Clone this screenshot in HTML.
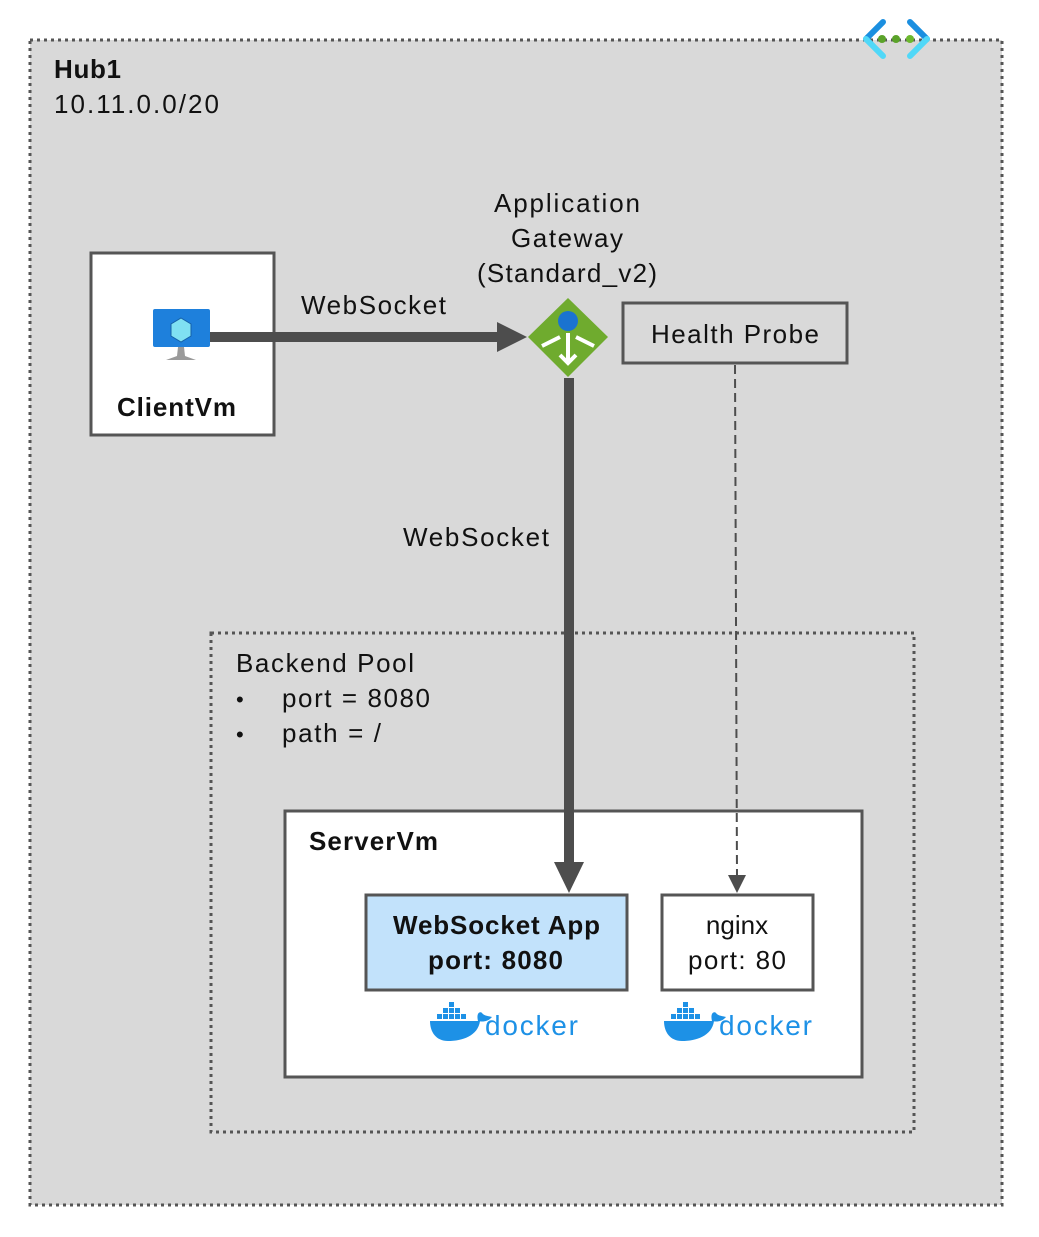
<!DOCTYPE html>
<html><head><meta charset="utf-8"><style>body{margin:0;background:#fff}svg{display:block}text{font-family:"Liberation Sans",sans-serif;fill:#111}</style></head>
<body>
<svg width="1039" height="1237" viewBox="0 0 1039 1237">
<rect x="30" y="40" width="972" height="1165" fill="#d9d9d9" stroke="#555" stroke-width="3" stroke-dasharray="3,4"/>
<text x="54" y="78" font-size="26" font-weight="bold" textLength="67">Hub1</text>
<text x="54" y="113" font-size="26" textLength="165">10.11.0.0/20</text>
<g stroke-width="6" stroke-linecap="round" fill="none">
<path d="M883 22 L866 39" stroke="#1b8fe0"/><path d="M866 39 L883 56" stroke="#50d8f8"/>
<path d="M910 22 L927 39" stroke="#1b8fe0"/><path d="M927 39 L910 56" stroke="#50d8f8"/>
</g>
<circle cx="882" cy="39" r="4" fill="#5ba32a"/><circle cx="896" cy="39" r="4" fill="#5ba32a"/><circle cx="910" cy="39" r="4" fill="#6cb82e"/>
<rect x="91" y="253" width="183" height="182" fill="#fff" stroke="#555" stroke-width="3"/>
<text x="117" y="416" font-size="26" font-weight="bold" textLength="119">ClientVm</text>
<rect x="153" y="309" width="57" height="38" rx="2" fill="#1e80dc"/>
<polygon points="181,318 191,324 191,336 181,342 171,336 171,324" fill="#7fe0f2" stroke="#1560a8" stroke-width="1"/>
<path d="M178 347 L184 347 L185 356 L196 360 L166 360 L177 356Z" fill="#9a9a9a"/>
<line x1="210" y1="337" x2="500" y2="337" stroke="#4d4d4d" stroke-width="10"/>
<polygon points="497,322 527,337 497,352" fill="#4d4d4d"/>
<text x="301" y="314" font-size="26" textLength="145">WebSocket</text>
<text x="494" y="212" font-size="26" textLength="146">Application</text>
<text x="511" y="247" font-size="26" textLength="112">Gateway</text>
<text x="477" y="282" font-size="26" textLength="180">(Standard_v2)</text>
<polygon points="568,298 608,337 568,377 528,337" fill="#6fab2e"/>
<circle cx="568" cy="321" r="10" fill="#1a73d0"/>
<g stroke="#fff" stroke-width="4" fill="none"><path d="M568 333 V362"/><path d="M560 355 L568 363 L576 355"/><path d="M560 337 L542 346"/><path d="M576 337 L594 346"/></g>
<rect x="623" y="303" width="224" height="60" fill="#d9d9d9" stroke="#555" stroke-width="3"/>
<text x="651" y="343" font-size="26" textLength="168">Health Probe</text>
<rect x="211" y="633" width="703" height="499" fill="none" stroke="#555" stroke-width="3" stroke-dasharray="3,4"/>
<text x="236" y="672" font-size="26" textLength="178">Backend Pool</text>
<text x="236" y="707" font-size="22">•</text><text x="282" y="707" font-size="26" textLength="148">port = 8080</text>
<text x="236" y="742" font-size="22">•</text><text x="282" y="742" font-size="26" textLength="99">path = /</text>
<rect x="285" y="811" width="577" height="266" fill="#fff" stroke="#555" stroke-width="3"/>
<text x="309" y="850" font-size="26" font-weight="bold" textLength="129">ServerVm</text>
<rect x="366" y="895" width="261" height="95" fill="#c2e2fb" stroke="#555" stroke-width="3"/>
<text x="393" y="934" font-size="26" font-weight="bold" textLength="207">WebSocket App</text>
<text x="428" y="969" font-size="26" font-weight="bold" textLength="135">port: 8080</text>
<rect x="662" y="895" width="151" height="95" fill="#fff" stroke="#555" stroke-width="3"/>
<text x="737" y="934" font-size="26" text-anchor="middle">nginx</text>
<text x="688" y="969" font-size="26" textLength="98">port: 80</text>
<line x1="569" y1="378" x2="569" y2="864" stroke="#4d4d4d" stroke-width="10"/>
<polygon points="554,862 584,862 569,893" fill="#4d4d4d"/>
<text x="403" y="546" font-size="26" textLength="146">WebSocket</text>
<line x1="735" y1="365" x2="737" y2="878" stroke="#4d4d4d" stroke-width="2" stroke-dasharray="9,5"/>
<polygon points="728,875 746,875 737,893" fill="#4d4d4d"/>
<g id="dk">
<path d="M430 1021 H480 C478 1036 462 1041 448 1041 C436 1041 430 1032 430 1021Z" fill="#1d91e6"/>
<g fill="#1d91e6"><rect x="437" y="1014" width="5" height="5"/><rect x="443" y="1014" width="5" height="5"/><rect x="449" y="1014" width="5" height="5"/><rect x="455" y="1014" width="5" height="5"/><rect x="461" y="1014" width="5" height="5"/><rect x="443" y="1008" width="5" height="5"/><rect x="449" y="1008" width="5" height="5"/><rect x="455" y="1008" width="5" height="5"/><rect x="449" y="1002" width="5" height="5"/><path d="M478 1021 C476 1013 480 1011 482 1013 C484 1016 489 1016 492 1017 C488 1022 482 1022 478 1021Z"/></g>
<text x="485" y="1035" font-size="28" textLength="93" style="fill:#1d91e6">docker</text>
</g>
<use href="#dk" transform="translate(234,0)"/>
</svg>
</body></html>
